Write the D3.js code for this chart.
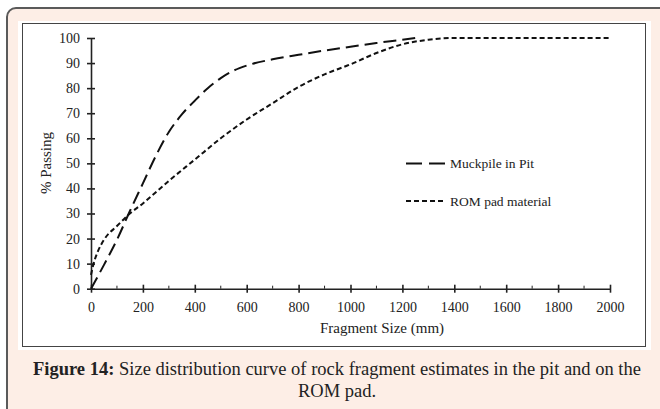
<!DOCTYPE html>
<html>
<head>
<meta charset="utf-8">
<script src="https://cdn.jsdelivr.net/npm/d3@7"></script>
<style>
  html, body { margin: 0; padding: 0; background: #fff; }
  svg { display: block; }
</style>
</head>
<body>
<div id="chart"></div>
<script>
// fragment size (mm) and % passing
var muckSize    = [0, 50, 100, 150, 200, 250, 300, 350, 400, 450, 500, 550, 600, 700, 800, 900, 1000, 1100, 1200, 1250];
var muckPassing = [0, 9.5, 19.5, 31, 42, 53, 62.5, 69.5, 75, 80, 84, 87, 89, 91.5, 93.3, 95, 96.5, 98, 99.3, 100];

var romSize    = [0, 10, 25, 50, 100, 150, 200, 250, 300, 400, 500, 600, 700, 800, 900, 1000, 1100, 1200, 1300, 1400, 1600, 1800, 2000];
var romPassing = [5.5, 10, 14.5, 19.5, 25, 30, 34, 38.5, 43, 51.5, 60, 67.5, 74, 80.5, 85.5, 89.5, 94, 97.5, 99.3, 100, 100, 100, 100];

var xTicks = [0, 200, 400, 600, 800, 1000, 1200, 1400, 1600, 1800, 2000];
var xMinor = [100, 300, 500, 700, 900, 1100, 1300, 1500, 1700, 1900];
var yTicks = [0, 10, 20, 30, 40, 50, 60, 70, 80, 90, 100];

var seriesNames = ["Muckpile in Pit", "ROM pad material"];

var W = 660, H = 409;
var svg = d3.select("#chart").append("svg")
    .attr("width", W)
    .attr("height", H);

// outer pink panel (runs off right and bottom edges)
svg.append("rect")
    .attr("x", 7).attr("y", 8)
    .attr("width", 670).attr("height", 420)
    .attr("rx", 9).attr("ry", 9)
    .style("fill", "#fdeee6")
    .style("stroke", "#5a5a5a")
    .style("stroke-width", 2);

// white area behind chart
svg.append("rect")
    .attr("x", 18).attr("y", 21)
    .attr("width", 633).attr("height", 329)
    .style("fill", "#fff");

// chart frame
svg.append("rect")
    .attr("x", 22.5).attr("y", 23.5)
    .attr("width", 623).attr("height", 323)
    .style("fill", "none")
    .style("stroke", "#444")
    .style("stroke-width", 1);

var x = d3.scaleLinear().domain([0, 2000]).range([91, 610]);
var y = d3.scaleLinear().domain([0, 100]).range([288.7, 38]);

var font = "'Liberation Serif', 'Times New Roman', serif";

// y axis
var yAxis = svg.append("g")
    .attr("transform", "translate(" + x(0) + ",0)")
    .call(d3.axisLeft(y).tickValues(yTicks).tickSize(4).tickPadding(7).tickSizeOuter(0));
yAxis.selectAll(".tick line").attr("x1", 4).attr("x2", -4);

// x axis
var xAxis = svg.append("g")
    .attr("transform", "translate(0," + y(0) + ")")
    .call(d3.axisBottom(x).tickValues(xTicks).tickFormat(d3.format("d"))
        .tickSize(4).tickPadding(9).tickSizeOuter(0));
xAxis.selectAll(".tick line").attr("y1", -4).attr("y2", 4);

xAxis.selectAll(".minor")
    .data(xMinor)
    .enter()
    .append("line")
    .attr("class", "minor")
    .attr("x1", function(d) { return x(d); })
    .attr("x2", function(d) { return x(d); })
    .attr("y1", -3)
    .attr("y2", 0)
    .style("stroke", "#222");

[yAxis, xAxis].forEach(function(a) {
    a.select(".domain").style("stroke", "#222").style("stroke-width", 1.6);
    a.selectAll(".tick line").style("stroke", "#222").style("stroke-width", 1.6);
    a.selectAll(".tick text")
        .style("font-family", font)
        .style("font-size", "14px")
        .style("fill", "#222");
});

// axis titles
svg.append("text")
    .attr("x", 382).attr("y", 333)
    .attr("text-anchor", "middle")
    .style("font-family", font)
    .style("font-size", "15px")
    .style("fill", "#222")
    .text("Fragment Size (mm)");

svg.append("text")
    .attr("transform", "translate(51,163) rotate(-90)")
    .attr("text-anchor", "middle")
    .style("font-family", font)
    .style("font-size", "15px")
    .style("fill", "#222")
    .text("% Passing");

// curves
var line = d3.line()
    .x(function(d) { return x(d[0]); })
    .y(function(d) { return y(d[1]); })
    .curve(d3.curveMonotoneX);

var muckData = muckSize.map(function(d, i) { return [d, muckPassing[i]]; });
var romData  = romSize.map(function(d, i) { return [d, romPassing[i]]; });

var dashes = ["13,6", "5,3"];

svg.append("path")
    .datum(romData)
    .attr("d", line)
    .style("fill", "none")
    .style("stroke", "#111")
    .style("stroke-width", 2)
    .style("stroke-dasharray", dashes[1]);

svg.append("path")
    .datum(muckData)
    .attr("d", line)
    .style("fill", "none")
    .style("stroke", "#111")
    .style("stroke-width", 2)
    .style("stroke-dasharray", dashes[0]);

// legend
var legend = svg.selectAll(".legend")
    .data(seriesNames)
    .enter()
    .append("g")
    .attr("class", "legend")
    .attr("transform", function(d, i) { return "translate(406," + (163.5 + i * 37.5) + ")"; });

legend.append("line")
    .attr("x1", 0).attr("x2", function(d, i) { return i === 0 ? 39 : 40; })
    .attr("y1", 0).attr("y2", 0)
    .style("stroke", "#111")
    .style("stroke-width", 2)
    .style("stroke-dasharray", function(d, i) { return i === 0 ? "16,7" : "5,3"; });

legend.append("text")
    .attr("x", 44).attr("y", 4.5)
    .style("font-family", font)
    .style("font-size", "13.5px")
    .style("fill", "#222")
    .text(function(d) { return d; });

// caption
var cap = svg.append("text")
    .attr("x", 337).attr("y", 375)
    .attr("text-anchor", "middle")
    .style("font-family", font)
    .style("font-size", "18.5px")
    .style("fill", "#222");
cap.append("tspan").style("font-weight", "bold").text("Figure 14:");
cap.append("tspan").text(" Size distribution curve of rock fragment estimates in the pit and on the");

svg.append("text")
    .attr("x", 337).attr("y", 397)
    .attr("text-anchor", "middle")
    .style("font-family", font)
    .style("font-size", "18.5px")
    .style("fill", "#222")
    .text("ROM pad.");
</script>
</body>
</html>
